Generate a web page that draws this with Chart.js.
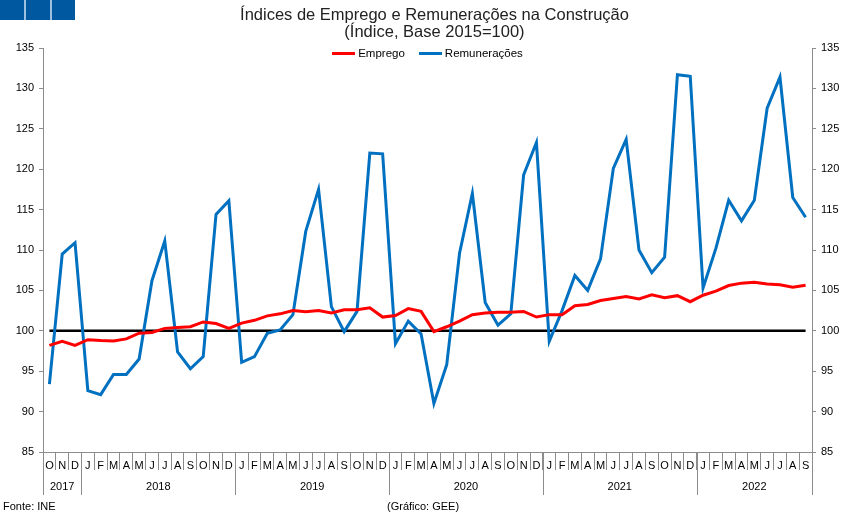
<!DOCTYPE html>
<html>
<head>
<meta charset="utf-8">
<script src="https://cdn.jsdelivr.net/npm/chart.js@4.4.0/dist/chart.umd.min.js"></script>
<style>
    body { margin: 0; background: #fff; font-family: "Liberation Sans", Arial, sans-serif; }
    #wrap { position: relative; width: 851px; height: 518px; }
    .sq { position: absolute; top: 0; width: 24px; height: 20px; background: #0058a0; }
    #strip { position: absolute; left: 0; top: 0; width: 75px; height: 20px; background: #9dbfe0; }
    .title { position: absolute; left: 9px; width: 851px; text-align: center; font-size: 16.5px;
             line-height: 17px; color: #222; }
    #legend { position: absolute; left: 43px; width: 769px; top: 46px; height: 14px;
              display: flex; justify-content: center; align-items: center; font-size: 11.5px; color: #000; }
    .item { display: flex; align-items: center; margin: 0 7px; }
    .swatch { width: 23px; height: 3px; margin-right: 3px; }
    .note { position: absolute; top: 500px; font-size: 11px; color: #000; }
</style>
</head>
<body>
<div id="wrap">
    <div id="strip"></div>
    <div class="sq" style="left:0"></div>
    <div class="sq" style="left:26px"></div>
    <div class="sq" style="left:52px; width:23px"></div>
    <canvas id="chart" width="851" height="518"></canvas>
    <div class="title" style="top:6px">Índices de Emprego e Remunerações na Construção</div>
    <div class="title" style="top:23px">(Índice, Base 2015=100)</div>
    <div id="legend"></div>
    <div class="note" style="left:3px">Fonte: INE</div>
    <div class="note" style="left:387px">(Gráfico: GEE)</div>
</div>
<script>
    // meses out/2017 a set/2022
    const months = [
        'O', 'N', 'D',
        'J', 'F', 'M', 'A', 'M', 'J', 'J', 'A', 'S', 'O', 'N', 'D',
        'J', 'F', 'M', 'A', 'M', 'J', 'J', 'A', 'S', 'O', 'N', 'D',
        'J', 'F', 'M', 'A', 'M', 'J', 'J', 'A', 'S', 'O', 'N', 'D',
        'J', 'F', 'M', 'A', 'M', 'J', 'J', 'A', 'S', 'O', 'N', 'D',
        'J', 'F', 'M', 'A', 'M', 'J', 'J', 'A', 'S'
    ];
    const years = ['2017', '2018', '2019', '2020', '2021', '2022'];
    const monthsPerYear = [3, 12, 12, 12, 12, 9];

    const emprego = [
        98.2, 98.7, 98.2,
        98.9, 98.8, 98.75, 99.0, 99.7, 99.8, 100.3, 100.4, 100.5, 101.1, 100.9, 100.3,
        100.95, 101.3, 101.85, 102.1, 102.5, 102.35, 102.5, 102.2, 102.6, 102.6, 102.85, 101.7,
        101.9, 102.75, 102.4, 99.9, 100.5, 101.2, 102.0, 102.2, 102.3, 102.3, 102.4, 101.7,
        102.0, 102.0, 103.1, 103.25, 103.75, 104.0, 104.25, 103.95, 104.45, 104.1, 104.35, 103.6,
        104.4, 104.9, 105.6, 105.9, 106.0, 105.8, 105.7, 105.4, 105.65
    ];
    const remuneracoes = [
        93.4, 109.5, 110.9,
        92.6, 92.1, 94.6, 94.6, 96.5, 106.2, 111.1, 97.4, 95.3, 96.8, 114.4, 116.1,
        96.1, 96.8, 99.7, 100.1, 102.0, 112.3, 117.5, 103.0, 99.9, 102.4, 122.0, 121.9,
        98.4, 101.2, 99.6, 91.0, 95.8, 109.6, 117.0, 103.5, 100.7, 102.1, 119.3, 123.3,
        98.7, 102.5, 106.85, 105.0, 108.9, 120.1, 123.7, 110.0, 107.2, 109.1, 131.7, 131.5,
        105.3, 110.2, 116.15, 113.6, 116.15, 127.55, 131.4, 116.5, 114.05
    ];
    const base = months.map(() => 100);

    const yMin = 85, yMax = 135, yStep = 5;
    const fontFamily = '"Liberation Sans", Arial, sans-serif';
    const axisColor = '#8c8c8c';

    Chart.defaults.font.family = fontFamily;
    Chart.defaults.color = '#000';

    // linha dos anos por baixo dos meses
    const yearRow = {
        id: 'yearRow',
        afterDraw(chart) {
            const x = chart.scales.x;
            const ctx = chart.ctx;
            const half = (x.getPixelForValue(1) - x.getPixelForValue(0)) / 2;
            const top = chart.chartArea.bottom;
            ctx.save();
            ctx.strokeStyle = axisColor;
            ctx.lineWidth = 1;
            ctx.fillStyle = '#000';
            ctx.font = '11px ' + fontFamily;
            ctx.textAlign = 'center';
            ctx.textBaseline = 'middle';
            let start = 0;
            years.forEach((yr, i) => {
                const end = start + monthsPerYear[i];
                const x0 = x.getPixelForValue(start) - half;
                const x1 = x.getPixelForValue(end - 1) + half;
                ctx.beginPath();
                ctx.moveTo(Math.round(x0) + 0.5, top);
                ctx.lineTo(Math.round(x0) + 0.5, top + 43);
                if (i === years.length - 1) {
                    ctx.moveTo(Math.round(x1) + 0.5, top);
                    ctx.lineTo(Math.round(x1) + 0.5, top + 43);
                }
                ctx.stroke();
                ctx.fillText(yr, (x0 + x1) / 2, top + 35);
                start = end;
            });
            ctx.restore();
        }
    };

    const yAxis = (pos, width) => ({
        position: pos,
        min: yMin,
        max: yMax,
        afterFit: s => { s.width = width; },
        ticks: { stepSize: yStep, font: { size: 11 }, padding: 5 },
        grid: { drawOnChartArea: false, tickLength: 4, color: axisColor },
        border: { color: axisColor }
    });

    const chart = new Chart(document.getElementById('chart').getContext('2d'), {
        type: 'line',
        data: {
            labels: months,
            datasets: [
                { label: 'Emprego', data: emprego, borderColor: '#ff0000', backgroundColor: '#ff0000',
                  borderWidth: 3, pointRadius: 0, yAxisID: 'y' },
                { label: 'Remunerações', data: remuneracoes, borderColor: '#0070c0', backgroundColor: '#0070c0',
                  borderWidth: 3, pointRadius: 0, yAxisID: 'y' },
                { label: 'base', data: base, borderColor: '#000', borderWidth: 2.5, pointRadius: 0, yAxisID: 'y' }
            ]
        },
        options: {
            responsive: false,
            animation: false,
            layout: { padding: { left: 0, right: 0, top: 48, bottom: 18 } },
            plugins: {
                legend: { display: false },
                tooltip: { enabled: false }
            },
            scales: {
                x: {
                    offset: true,
                    afterFit: s => { s.height = 48; },
                    grid: { offset: true, drawOnChartArea: false, tickLength: 18, color: axisColor },
                    border: { color: axisColor },
                    ticks: { autoSkip: false, maxRotation: 0, font: { size: 11 }, padding: -11 }
                },
                y: yAxis('left', 43),
                y2: yAxis('right', 39)
            }
        },
        plugins: [yearRow]
    });

    // legenda em html, dentro da área do gráfico
    const legend = document.getElementById('legend');
    chart.data.datasets.slice(0, 2).forEach(ds => {
        const item = document.createElement('div');
        item.className = 'item';
        item.innerHTML = '<span class="swatch" style="background:' + ds.borderColor + '"></span>' + ds.label;
        legend.appendChild(item);
    });
</script>
</body>
</html>
